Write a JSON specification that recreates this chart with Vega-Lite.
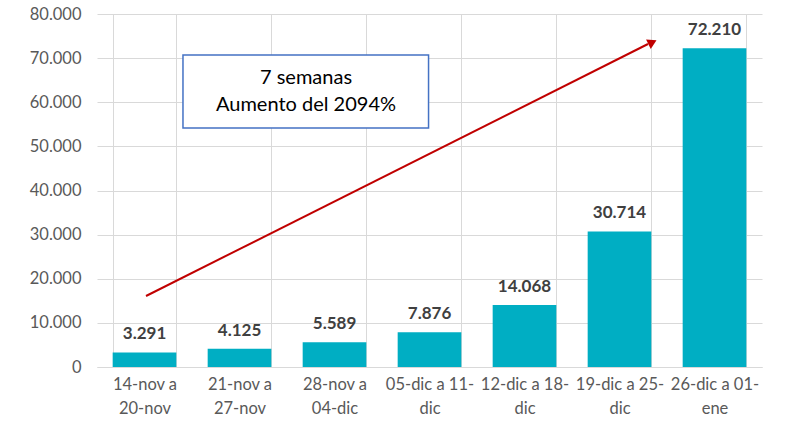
{
  "$schema": "https://vega.github.io/schema/vega-lite/v6.json",
  "autosize": "none",
  "width": 665,
  "height": 353,
  "padding": {"left": 97, "top": 14, "right": 28, "bottom": 61},
  "background": "white",
  "config": {
    "locale": {"number": {"decimal": ",", "thousands": ".", "grouping": [3], "currency": ["", " €"]}},
    "view": {"stroke": null},
    "font": "Lato"
  },
  "datasets": {
    "bars": [
      {"semana": "14-nov a|20-nov", "casos": 3291},
      {"semana": "21-nov a|27-nov", "casos": 4125},
      {"semana": "28-nov a|04-dic", "casos": 5589},
      {"semana": "05-dic a 11-|dic", "casos": 7876},
      {"semana": "12-dic a 18-|dic", "casos": 14068},
      {"semana": "19-dic a 25-|dic", "casos": 30714},
      {"semana": "26-dic a 01-|ene", "casos": 72210}
    ],
    "arrow": [
      {"x": 0.516, "y": 16090, "x2": 5.80, "y2": 73200}
    ],
    "head": [
      {"x": 5.847, "y": 73610}
    ],
    "box": [
      {"x": 0.905, "x2": 3.49, "y": 54160, "y2": 70700}
    ],
    "note": [
      {"x": 2.2, "y": 65600, "t": "7 semanas"},
      {"x": 2.2, "y": 59300, "t": "Aumento del 2094%"}
    ]
  },
  "layer": [
    {
      "data": {"name": "bars"},
      "layer": [
        {
          "mark": {"type": "bar", "color": "#00AEC3"},
          "encoding": {
            "x": {
              "field": "semana", "type": "nominal", "sort": null,
              "scale": {"paddingInner": 0.33, "paddingOuter": 0.165},
              "axis": {
                "title": null, "labelAngle": 0, "labelExpr": "split(datum.label, '|')",
                "labelFontSize": 16.5, "labelColor": "#595959", "labelPadding": 9,
                "labelLineHeight": 24, "ticks": false, "domain": true, "domainColor": "#D9D9D9",
                "grid": true, "gridColor": "#D9D9D9", "tickBand": "extent", "labelOverlap": false
              }
            },
            "y": {
              "field": "casos", "type": "quantitative",
              "scale": {"domain": [0, 80000], "nice": false},
              "axis": {
                "title": null, "format": ",d", "values": [0,10000,20000,30000,40000,50000,60000,70000,80000],
                "labelFontSize": 16.5, "labelColor": "#595959", "labelPadding": 16, "labelOverlap": false,
                "ticks": false, "domain": false, "gridColor": "#D9D9D9"
              }
            }
          }
        },
        {
          "mark": {"type": "text", "baseline": "bottom", "dy": -9, "fontSize": 17, "fontWeight": "bold", "color": "#404040"},
          "encoding": {
            "x": {"field": "semana", "type": "nominal", "sort": null},
            "y": {"field": "casos", "type": "quantitative"},
            "text": {"field": "casos", "type": "quantitative", "format": ",d"}
          }
        }
      ]
    },
    {
      "data": {"name": "arrow"},
      "mark": {"type": "rule", "color": "#C00000", "strokeWidth": 2},
      "encoding": {
        "x": {"field": "x", "type": "quantitative", "scale": {"domain": [0, 7]}, "axis": null},
        "x2": {"field": "x2"},
        "y": {"field": "y", "type": "quantitative"},
        "y2": {"field": "y2"}
      }
    },
    {
      "data": {"name": "head"},
      "mark": {"type": "point", "shape": "triangle-up", "filled": true, "color": "#C00000", "size": 110, "angle": 63.4, "opacity": 1},
      "encoding": {
        "x": {"field": "x", "type": "quantitative", "scale": {"domain": [0, 7]}, "axis": null},
        "y": {"field": "y", "type": "quantitative"}
      }
    },
    {
      "data": {"name": "box"},
      "mark": {"type": "rect", "fill": "white", "stroke": "#4472C4", "strokeWidth": 1.5},
      "encoding": {
        "x": {"field": "x", "type": "quantitative", "scale": {"domain": [0, 7]}, "axis": null},
        "x2": {"field": "x2"},
        "y": {"field": "y", "type": "quantitative"},
        "y2": {"field": "y2"}
      }
    },
    {
      "data": {"name": "note"},
      "mark": {"type": "text", "fontSize": 20, "color": "#000000", "baseline": "middle"},
      "encoding": {
        "x": {"field": "x", "type": "quantitative", "scale": {"domain": [0, 7]}, "axis": null},
        "y": {"field": "y", "type": "quantitative"},
        "text": {"field": "t", "type": "nominal"}
      }
    }
  ],
  "resolve": {"scale": {"x": "independent"}}
}
